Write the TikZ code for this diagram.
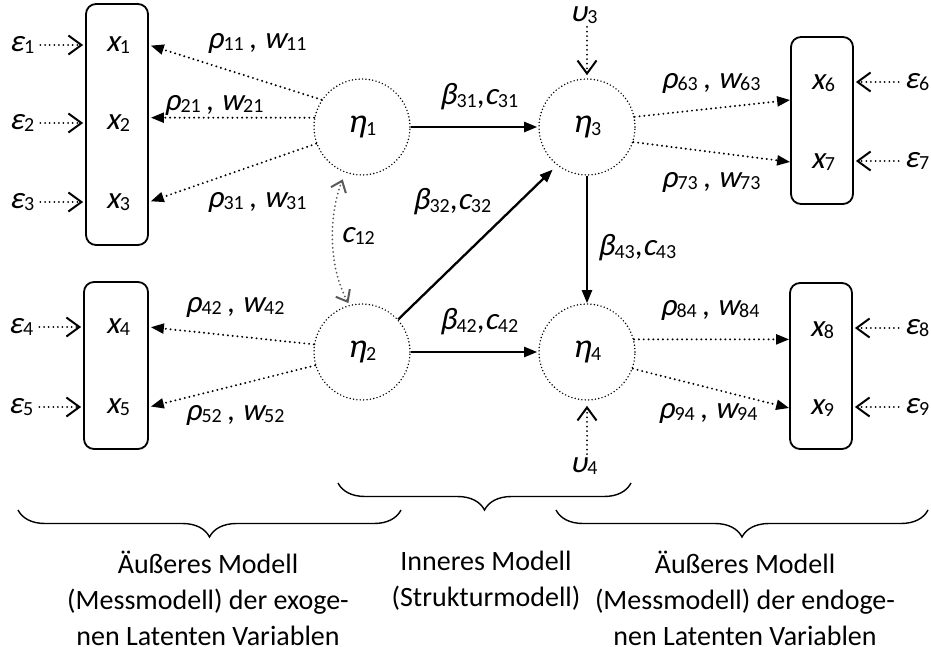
\documentclass[tikz,border=0pt]{standalone}
\usepackage{fontspec}
\setmainfont{Carlito}[ItalicFont=Carlito, ItalicFeatures={FakeSlant=0.2}]
\usetikzlibrary{arrows.meta,decorations.pathreplacing,calc}
% italic symbol with an upright, slightly lowered index
\newcommand\vr[2]{\textit{#1}\kern0.3pt\raisebox{-2.5pt}{\fontsize{20}{20}\selectfont #2}}

\begin{document}
\begin{tikzpicture}[x=1pt,y=-1pt,
  lab/.style={font=\fontsize{31}{34}\selectfont, inner sep=0pt},
  mbox/.style={draw, line width=1.8pt, rounded corners=10pt},
  latent/.style={circle, draw, line width=1.6pt, dash pattern=on 0pt off 3.4pt,
    line cap=round, minimum size=96pt, inner sep=0pt, font=\fontsize{34}{34}\selectfont},
  load/.style={line width=2.2pt, dash pattern=on 0pt off 4.8pt, line cap=round,
    -{Triangle[length=13pt,width=10pt]}},
  err/.style={line width=2pt, dash pattern=on 0pt off 4.6pt, line cap=round,
    -{Straight Barb[length=13pt,width=19pt]}},
  strpath/.style={line width=2.3pt, -{Triangle[length=13pt,width=10pt]}},
  brc/.style={decorate, decoration={brace, mirror, amplitude=27pt}, line width=1.4pt},
  caption/.style={font=\fontsize{28}{36}\selectfont, align=center, inner sep=0pt}
]
\useasboundingbox (0,0) rectangle (931,647);

% measurement blocks
\node[mbox, minimum width=62pt, minimum height=241pt] (B1) at (117,124.5) {};
\node[mbox, minimum width=64pt, minimum height=167pt] (B2) at (116,365.5) {};
\node[mbox, minimum width=62pt, minimum height=167pt] (B3) at (822,120.5) {};
\node[mbox, minimum width=62pt, minimum height=166pt] (B4) at (821,366) {};

% indicators
\node[lab] (x1) at (118,45)  {\vr{x}{1}};
\node[lab] (x2) at (118,123) {\vr{x}{2}};
\node[lab] (x3) at (118,202) {\vr{x}{3}};
\node[lab] (x4) at (118,327) {\vr{x}{4}};
\node[lab] (x5) at (118,407) {\vr{x}{5}};
\node[lab] (x6) at (823,83)  {\vr{x}{6}};
\node[lab] (x7) at (823,162) {\vr{x}{7}};
\node[lab] (x8) at (822,330) {\vr{x}{8}};
\node[lab] (x9) at (822,408) {\vr{x}{9}};

% error terms
\node[lab] (e1) at (22,45)  {\vr{ε}{1}};
\node[lab] (e2) at (22,123) {\vr{ε}{2}};
\node[lab] (e3) at (22,202) {\vr{ε}{3}};
\node[lab] (e4) at (21,327) {\vr{ε}{4}};
\node[lab] (e5) at (21,407) {\vr{ε}{5}};
\node[lab] (e6) at (917,82)  {\vr{ε}{6}};
\node[lab] (e7) at (917,161) {\vr{ε}{7}};
\node[lab] (e8) at (917,328) {\vr{ε}{8}};
\node[lab] (e9) at (917,407) {\vr{ε}{9}};

\foreach \e/\b in {e1/B1,e2/B1,e3/B1,e4/B2,e5/B2}
  \draw[err, shorten <=6pt, shorten >=2pt] (\e.east) -- (\b.west |- \e.east);
\foreach \e/\b in {e6/B3,e7/B3,e8/B4,e9/B4}
  \draw[err, shorten <=6pt, shorten >=2pt] (\e.west) -- (\b.east |- \e.west);

% latent variables
\node[latent] (eta1) at (362,127) {\vr{η}{1}};
\node[latent] (eta2) at (362,352) {\vr{η}{2}};
\node[latent] (eta3) at (587,127) {\vr{η}{3}};
\node[latent] (eta4) at (587,352) {\vr{η}{4}};

% disturbances
\node[lab] (u3) at (584,15)  {\vr{υ}{3}};
\node[lab] (u4) at (584,466) {\vr{υ}{4}};
\draw[err, shorten <=3pt, shorten >=3pt] (u3.south -| eta3.north) -- (eta3.north);
\draw[err, shorten <=3pt, shorten >=5pt] (u4.north -| eta4.south) -- (eta4.south);

% outer model loadings
\draw[load, shorten >=2pt] (eta1.146) -- (B1.east |- x1);
\draw[load, shorten >=2pt] (eta1.169) -- (B1.east |- eta1.169);
\draw[load, shorten >=2pt] (eta1.200) -- (B1.east |- x3);
\draw[load, shorten >=2pt] (eta2.171) -- (B2.east |- x4);
\draw[load, shorten >=2pt] (eta2.196) -- (B2.east |- x5);
\draw[load] (eta3.12)  -- ($(B3.west)+(0,-20.5)$);
\draw[load] (eta3.342) -- (B3.west |- x7);
\draw[load] (eta4.15)  -- (B4.west |- eta4.15);
\draw[load] (eta4.340) -- (B4.west |- x9);

\node[lab] (r11) at (257,43)  {\vr{ρ}{11}\,, \vr{w}{11}};
\node[lab] (r21) at (214,105) {\vr{ρ}{21}\,, \vr{w}{21}};
\node[lab] (r31) at (257,202) {\vr{ρ}{31}\,, \vr{w}{31}};
\node[lab] (r42) at (235,307) {\vr{ρ}{42}\,, \vr{w}{42}};
\node[lab] (r52) at (235,415) {\vr{ρ}{52}\,, \vr{w}{52}};
\node[lab] (r63) at (711,83)  {\vr{ρ}{63}\,, \vr{w}{63}};
\node[lab] (r73) at (711,182) {\vr{ρ}{73}\,, \vr{w}{73}};
\node[lab] (r84) at (710,310) {\vr{ρ}{84}\,, \vr{w}{84}};
\node[lab] (r94) at (708,413) {\vr{ρ}{94}\,, \vr{w}{94}};

% inner model paths
\draw[strpath, shorten >=1pt] (eta1) -- (eta3);
\draw[strpath, shorten >=1pt] (eta2) -- (eta4);
\draw[strpath, shorten >=6pt] (eta2.42) -- (eta3.232);
\draw[strpath] (eta3) -- (eta4);

\node[lab] (b31) at (479,97)  {\vr{β}{31},\vr{c}{31}};
\node[lab] (b32) at (452,202) {\vr{β}{32},\vr{c}{32}};
\node[lab] (b43) at (637,248) {\vr{β}{43},\vr{c}{43}};
\node[lab] (b42) at (479,322) {\vr{β}{42},\vr{c}{42}};

% covariance of the exogenous constructs
\draw[line width=2pt, dash pattern=on 0pt off 4.2pt, line cap=round, draw=black!65,
  {Straight Barb[length=10pt,width=16pt]}-{Straight Barb[length=10pt,width=16pt]},
  shorten <=7pt, shorten >=2pt]
  (eta1.250) .. controls +(-16,40) and +(-22,-40) .. (eta2.105);
\node[lab] (c12) at (358,236) {\vr{c}{12}};

% model groups
\draw[brc] (18,510) -- (401,510);
\draw[brc] (338,483) -- (631,483);
\draw[brc] (556,510) -- (928,510);

\node[caption, anchor=north] (capL) at (208,551) {Äußeres Modell\\(Messmodell) der exoge-\\nen Latenten Variablen};
\node[caption, anchor=north] (capM) at (486,551) {Inneres Modell\\(Strukturmodell)};
\node[caption, anchor=north] (capR) at (745,551) {Äußeres Modell\\(Messmodell) der endoge-\\nen Latenten Variablen};
\end{tikzpicture}
\end{document}
